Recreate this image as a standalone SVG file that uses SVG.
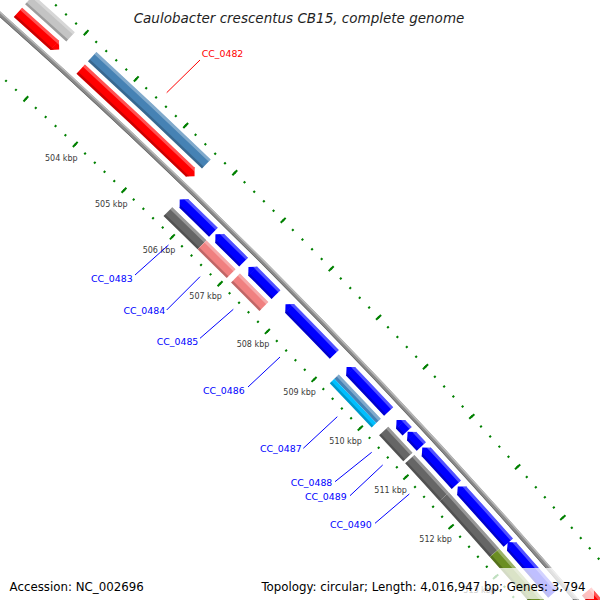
<svg xmlns="http://www.w3.org/2000/svg" xmlns:xlink="http://www.w3.org/1999/xlink" width="600" height="600" viewBox="0 0 600 600">
<style>
.a{fill:none}
.b{stroke:currentColor}
.h{stroke:#fff;stroke-opacity:.32}
.s{stroke:#000;stroke-opacity:.2}
.tick{font-family:"DejaVu Sans",sans-serif;font-size:8px;fill:#3a3a3a}
.gl{font-family:"DejaVu Sans",sans-serif;font-size:9.4px;fill:#0000ff}
.lead{stroke:#0000ff;stroke-width:1}
.leg{font-family:"DejaVu Sans",sans-serif;font-size:11.8px;fill:#000}
</style>
<defs>
<g id="sF2">
<circle class="a b" cx="-4076.7" cy="4601.7" r="6167.5" stroke-width="12.5" pathLength="570.884"/>
<circle class="a h" cx="-4076.7" cy="4601.7" r="6172.25" stroke-width="3" pathLength="570.884"/>
<circle class="a s" cx="-4076.7" cy="4601.7" r="6162.5" stroke-width="2.5" pathLength="570.884"/>
</g>
<g id="sF1">
<circle class="a b" cx="-4076.7" cy="4601.7" r="6150.5" stroke-width="12.5" pathLength="570.884"/>
<circle class="a h" cx="-4076.7" cy="4601.7" r="6155.25" stroke-width="3" pathLength="570.884"/>
<circle class="a s" cx="-4076.7" cy="4601.7" r="6145.5" stroke-width="2.5" pathLength="570.884"/>
</g>
<g id="sR1">
<circle class="a b" cx="-4076.7" cy="4601.7" r="6123.5" stroke-width="12.5" pathLength="570.884"/>
<circle class="a h" cx="-4076.7" cy="4601.7" r="6128.25" stroke-width="3" pathLength="570.884"/>
<circle class="a s" cx="-4076.7" cy="4601.7" r="6118.5" stroke-width="2.5" pathLength="570.884"/>
</g>
<g id="sR2">
<circle class="a b" cx="-4076.7" cy="4601.7" r="6106.5" stroke-width="12.5" pathLength="570.884"/>
<circle class="a h" cx="-4076.7" cy="4601.7" r="6111.25" stroke-width="3" pathLength="570.884"/>
<circle class="a s" cx="-4076.7" cy="4601.7" r="6101.5" stroke-width="2.5" pathLength="570.884"/>
</g>
<g id="sR2o">
<circle class="a b" cx="-4076.7" cy="4601.7" r="6109.625" stroke-width="6.25" pathLength="570.884"/>
<circle class="a h" cx="-4076.7" cy="4601.7" r="6111.25" stroke-width="3" pathLength="570.884"/>
</g>
<g id="sR2i">
<circle class="a b" cx="-4076.7" cy="4601.7" r="6103.375" stroke-width="6.25" pathLength="570.884"/>
<circle class="a s" cx="-4076.7" cy="4601.7" r="6101.5" stroke-width="2.5" pathLength="570.884"/>
</g>
<g id="hRev">
<polygon points="0,0 6.25,6 6.25,6.3 -6.25,6.3 -6.25,6" fill="currentColor"/>
<polygon points="3.25,3.12 6.25,6 6.25,6.3 3.25,6.3" fill="#fff" fill-opacity=".32"/>
<polygon points="-3.75,3.6 -6.25,6 -6.25,6.3 -3.75,6.3" fill="#000" fill-opacity=".2"/>
</g>
<g id="hFwd">
<polygon points="0,0 6.25,-6 6.25,-6.3 -6.25,-6.3 -6.25,-6" fill="currentColor"/>
<polygon points="3.25,-3.12 6.25,-6 6.25,-6.3 3.25,-6.3" fill="#fff" fill-opacity=".32"/>
<polygon points="-3.75,-3.6 -6.25,-6 -6.25,-6.3 -3.75,-6.3" fill="#000" fill-opacity=".2"/>
</g>
</defs>
<rect width="600" height="600" fill="#fff"/>

<g id="rulers">
<circle class="a" cx="-4076.7" cy="4601.7" r="6181" pathLength="570.884" stroke="#008000" stroke-width="2.2" stroke-dasharray="0.03 0.17" transform="rotate(-49.5629 -4076.7 4601.7)"/>
<circle class="a" cx="-4076.7" cy="4601.7" r="6181" pathLength="570.884" stroke="#008000" stroke-width="7" stroke-dasharray="0.03 0.97" transform="rotate(-49.5629 -4076.7 4601.7)"/>
<circle class="a" cx="-4076.7" cy="4601.7" r="6091.5" pathLength="570.884" stroke="#008000" stroke-width="2.2" stroke-dasharray="0.03 0.17" transform="rotate(-49.5629 -4076.7 4601.7)"/>
<circle class="a" cx="-4076.7" cy="4601.7" r="6091.5" pathLength="570.884" stroke="#008000" stroke-width="7" stroke-dasharray="0.03 0.97" transform="rotate(-49.5629 -4076.7 4601.7)"/>
</g>

<g id="backbone">
<circle class="a" cx="-4076.7" cy="4601.7" r="6137" stroke="#8a8a8a" stroke-width="4.5"/>
<circle class="a" cx="-4076.7" cy="4601.7" r="6138.5" stroke="#b8b8b8" stroke-width="1.5"/>
<circle class="a" cx="-4076.7" cy="4601.7" r="6135.25" stroke="#6e6e6e" stroke-width="1"/>
</g>

<g id="features">
<g id="cog-f-502" color="#c4c4c4"><use href="#sF2" transform="rotate(-48.2607 -4076.7 4601.7)" stroke-dasharray="0.82 600"/></g>
<g id="cds-f-502" color="#ff0000"><use href="#sF1" transform="rotate(-48.2607 -4076.7 4601.7)" stroke-dasharray="0.735 600"/><use href="#hFwd" transform="rotate(-47.7436 -4076.7 4601.7) translate(2073.8 4601.7)"/></g>
<g id="CC_0482-cog" color="#4682b4"><use href="#sF2" transform="rotate(-47.4724 -4076.7 4601.7)" stroke-dasharray="2.31 600"/></g>
<g id="CC_0482" color="#ff0000"><use href="#sF1" transform="rotate(-47.4724 -4076.7 4601.7)" stroke-dasharray="2.225 600"/><use href="#hFwd" transform="rotate(-46.0157 -4076.7 4601.7) translate(2073.8 4601.7)"/></g>
<g id="cds-f-514" color="#ff0000"><use href="#sF1" transform="rotate(-40.6935 -4076.7 4601.7)" stroke-dasharray="1 600"/></g>

<g id="CC_0483" color="#0000ff"><use href="#sR1" transform="rotate(-45.9117 -4076.7 4601.7)" stroke-dasharray="0.615 600"/><use href="#hRev" transform="rotate(-45.9653 -4076.7 4601.7) translate(2046.8 4601.7)"/></g>
<g id="CC_0484" color="#0000ff"><use href="#sR1" transform="rotate(-45.4450 -4076.7 4601.7)" stroke-dasharray="0.505 600"/><use href="#hRev" transform="rotate(-45.4986 -4076.7 4601.7) translate(2046.8 4601.7)"/></g>
<g id="CC_0485" color="#0000ff"><use href="#sR1" transform="rotate(-45.0099 -4076.7 4601.7)" stroke-dasharray="0.495 600"/><use href="#hRev" transform="rotate(-45.0635 -4076.7 4601.7) translate(2046.8 4601.7)"/></g>
<g id="CC_0486" color="#0000ff"><use href="#sR1" transform="rotate(-44.5181 -4076.7 4601.7)" stroke-dasharray="0.955 600"/><use href="#hRev" transform="rotate(-44.5717 -4076.7 4601.7) translate(2046.8 4601.7)"/></g>
<g id="CC_0487" color="#0000ff"><use href="#sR1" transform="rotate(-43.6983 -4076.7 4601.7)" stroke-dasharray="0.825 600"/><use href="#hRev" transform="rotate(-43.7519 -4076.7 4601.7) translate(2046.8 4601.7)"/></g>
<g id="CC_0488" color="#0000ff"><use href="#sR1" transform="rotate(-43.0172 -4076.7 4601.7)" stroke-dasharray="0.145 600"/><use href="#hRev" transform="rotate(-43.0708 -4076.7 4601.7) translate(2046.8 4601.7)"/></g>
<g id="CC_0489" color="#0000ff"><use href="#sR1" transform="rotate(-42.8659 -4076.7 4601.7)" stroke-dasharray="0.215 600"/><use href="#hRev" transform="rotate(-42.9195 -4076.7 4601.7) translate(2046.8 4601.7)"/></g>
<g id="CC_0490" color="#0000ff"><use href="#sR1" transform="rotate(-42.6641 -4076.7 4601.7)" stroke-dasharray="0.665 600"/><use href="#hRev" transform="rotate(-42.7177 -4076.7 4601.7) translate(2046.8 4601.7)"/></g>
<g id="cds-r-511" color="#0000ff"><use href="#sR1" transform="rotate(-42.1722 -4076.7 4601.7)" stroke-dasharray="1.04 600"/><use href="#hRev" transform="rotate(-42.2258 -4076.7 4601.7) translate(2046.8 4601.7)"/></g>
<g id="cds-r-512" color="#0000ff"><use href="#sR1" transform="rotate(-41.4723 -4076.7 4601.7)" stroke-dasharray="0.935 600"/><use href="#hRev" transform="rotate(-41.5259 -4076.7 4601.7) translate(2046.8 4601.7)"/></g>

<g id="CC_0483-cog" color="#666666"><use href="#sR2" transform="rotate(-45.9653 -4076.7 4601.7)" stroke-dasharray="0.71 600"/></g>
<g id="CC_0484-cog" color="#f08080"><use href="#sR2" transform="rotate(-45.5176 -4076.7 4601.7)" stroke-dasharray="0.61 600"/></g>
<g id="CC_0485-cog" color="#f08080"><use href="#sR2" transform="rotate(-45.0761 -4076.7 4601.7)" stroke-dasharray="0.60 600"/></g>
<g id="CC_0487-cog"><use href="#sR2o" color="#4682b4" transform="rotate(-43.7519 -4076.7 4601.7)" stroke-dasharray="0.91 600"/><use href="#sR2i" color="#00bfff" transform="rotate(-43.7519 -4076.7 4601.7)" stroke-dasharray="0.91 600"/></g>
<g id="CC_0488-cog" color="#666666"><use href="#sR2" transform="rotate(-43.0771 -4076.7 4601.7)" stroke-dasharray="0.53 600"/></g>
<g id="CC_0490-cog" color="#666666"><use href="#sR2" transform="rotate(-42.7177 -4076.7 4601.7)" stroke-dasharray="0.76 600"/></g>
<g id="cog-r-511" color="#666666"><use href="#sR2" transform="rotate(-42.2384 -4076.7 4601.7)" stroke-dasharray="1.12 600"/></g>
<g id="cog-r-512" color="#6b8e23"><use href="#sR2" transform="rotate(-41.5322 -4076.7 4601.7)" stroke-dasharray="1.3 600"/></g>
</g>

<g id="tick-labels" class="tick">
<text x="45" y="160.9">504 kbp</text>
<text x="95" y="206.6">505 kbp</text>
<text x="142.7" y="252.6">506 kbp</text>
<text x="189.3" y="299.2">507 kbp</text>
<text x="236.7" y="346.6">508 kbp</text>
<text x="283.3" y="395.2">509 kbp</text>
<text x="329.3" y="443.6">510 kbp</text>
<text x="374.3" y="492.6">511 kbp</text>
<text x="419.3" y="541.9">512 kbp</text>
<text x="463.3" y="592.6">513 kbp</text>
</g>

<g id="connectors" fill="none">
<line x1="200" y1="60" x2="166.7" y2="92.7" stroke="#ff0000" stroke-width="1"/>
<line class="lead" x1="135" y1="275" x2="168.5" y2="245"/>
<line class="lead" x1="166.7" y1="310" x2="200" y2="276.7"/>
<line class="lead" x1="200" y1="338.3" x2="233.3" y2="309.3"/>
<line class="lead" x1="248" y1="387" x2="280" y2="357"/>
<line class="lead" x1="303.3" y1="448.3" x2="337.3" y2="416.7"/>
<line class="lead" x1="335" y1="481.7" x2="371.7" y2="452.3"/>
<line class="lead" x1="350" y1="495.7" x2="382.7" y2="465"/>
<line class="lead" x1="375" y1="523.3" x2="409.3" y2="494"/>
</g>

<g id="gene-labels">
<text class="gl" x="201.7" y="57.3" style="fill:#ff0000">CC_0482</text>
<text class="gl" x="91" y="282">CC_0483</text>
<text class="gl" x="123.5" y="313.6">CC_0484</text>
<text class="gl" x="156.7" y="345">CC_0485</text>
<text class="gl" x="203" y="393.5">CC_0486</text>
<text class="gl" x="260" y="452">CC_0487</text>
<text class="gl" x="290.7" y="486">CC_0488</text>
<text class="gl" x="305" y="500.3">CC_0489</text>
<text class="gl" x="330" y="527.6">CC_0490</text>
</g>

<g id="title">
<text x="299" y="23" text-anchor="middle" font-family="DejaVu Sans, sans-serif" font-size="13.5" font-style="italic" fill="#1e1e1e">Caulobacter crescentus CB15, complete genome</text>
</g>

<g id="legend">
<rect x="256" y="568" width="338" height="31" fill="#fff" fill-opacity="0.75"/>
<text class="leg" x="9.6" y="591">Accession: NC_002696</text>
<text class="leg" x="261.4" y="591">Topology: circular; Length: 4,016,947 bp; Genes: 3,794</text>
</g>
</svg>
